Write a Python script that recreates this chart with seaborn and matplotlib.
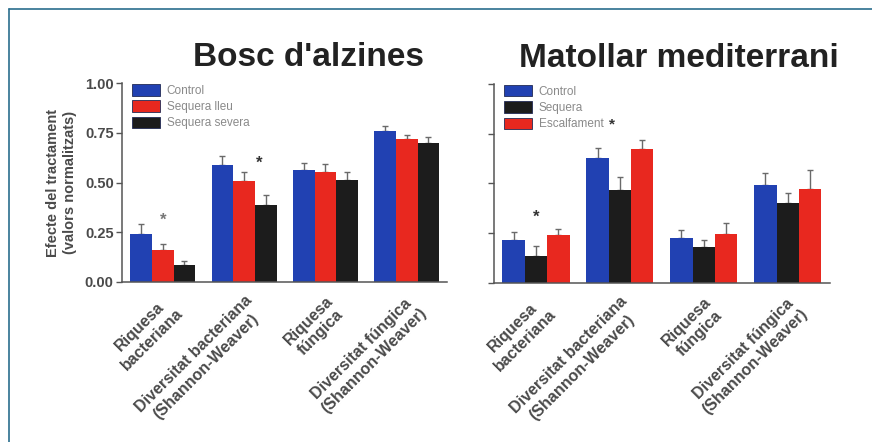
import matplotlib
matplotlib.use("Agg")
import matplotlib.pyplot as plt
import matplotlib.transforms as mtransforms
import seaborn as sns
import pandas as pd
import numpy as np
from matplotlib.lines import Line2D
from matplotlib.patches import Patch

sns.set_style("white")
plt.rcParams['font.family'] = ['Liberation Sans', 'DejaVu Sans']

categories = ["Riquesa\nbacteriana", "Diversitat bacteriana\n(Shannon-Weaver)",
              "Riquesa\nfúngica", "Diversitat fúngica\n(Shannon-Weaver)"]

# Bosc d'alzines
left_series = ["Control", "Sequera lleu", "Sequera severa"]
left_control = [0.24, 0.59, 0.565, 0.76]
left_lleu = [0.16, 0.51, 0.555, 0.72]
left_severa = [0.085, 0.385, 0.515, 0.70]
left_control_err = [0.05, 0.045, 0.035, 0.025]
left_lleu_err = [0.03, 0.045, 0.04, 0.02]
left_severa_err = [0.02, 0.05, 0.04, 0.03]

# Matollar mediterrani
right_series = ["Control", "Sequera", "Escalfament"]
right_control = [0.215, 0.63, 0.225, 0.49]
right_sequera = [0.135, 0.465, 0.18, 0.40]
right_escalf = [0.24, 0.675, 0.245, 0.47]
right_control_err = [0.04, 0.05, 0.04, 0.06]
right_sequera_err = [0.05, 0.065, 0.035, 0.05]
right_escalf_err = [0.03, 0.045, 0.055, 0.10]

yticks = [0.0, 0.25, 0.5, 0.75, 1.0]
ytick_labels = ["0.00", "0.25", "0.50", "0.75", "1.00"]

BLUE = "#2141b2"
RED = "#e8281f"
BLACK = "#1c1c1c"
TXT = "#4a4a4a"

fig = plt.figure(figsize=(8.72, 4.42), dpi=100)
axL = fig.add_axes([0.140, 0.362, 0.373, 0.450])
axR = fig.add_axes([0.5665, 0.360, 0.385, 0.450])


def panel(ax, series, vals, errs, colors, title, title_x, ylabels):
    rows = []
    for s, v in zip(series, vals):
        for c, y in zip(categories, v):
            rows.append({"cat": c, "serie": s, "val": y})
    df = pd.DataFrame(rows)
    sns.barplot(data=df, x="cat", y="val", hue="serie", order=categories,
                hue_order=series, palette=colors, errorbar=None, ax=ax,
                width=0.8, saturation=1, legend=False, edgecolor="none")
    patches = [p for p in ax.patches]
    n = len(categories)
    for si, (v, e) in enumerate(zip(vals, errs)):
        ps = patches[si * n:(si + 1) * n]
        xs = [p.get_x() + p.get_width() / 2 for p in ps]
        ax.errorbar(xs, v, yerr=[np.zeros(n), e], fmt="none",
                    ecolor="#6a6a6a", elinewidth=1.0, capsize=2.0, capthick=1.0, zorder=1)
        for p in ps:
            p.set_zorder(2)
    ax.set_ylim(0, 1.0)
    ax.set_xlim(-0.5, 3.5)
    ax.set_yticks(yticks)
    if ylabels:
        ax.set_yticklabels(ytick_labels, fontsize=10.5, fontweight="bold", color=TXT)
    else:
        ax.set_yticklabels([])
    ax.set_xticks(range(n))
    ax.set_xticklabels(categories, rotation=45, ha="right", va="top",
                       rotation_mode="anchor", fontsize=11.5, fontweight="bold",
                       color=TXT, multialignment="center")
    off = mtransforms.ScaledTranslation(-6 / 100, 0, fig.dpi_scale_trans)
    for lab in ax.get_xticklabels():
        lab.set_transform(lab.get_transform() + off)
    ax.tick_params(axis="x", length=0, pad=8)
    ax.tick_params(axis="y", length=4, width=1.0, color="#555555", left=True, pad=2)
    ax.set_xlabel("")
    ax.set_ylabel("")
    for sp in ["top", "right"]:
        ax.spines[sp].set_visible(False)
    for sp in ["left", "bottom"]:
        ax.spines[sp].set_color("#555555")
        ax.spines[sp].set_linewidth(1.1)
    ax.set_title(title, fontsize=24, fontweight="bold", color="#222222", pad=12, x=title_x)
    handles = [Patch(facecolor=c, edgecolor="#222a55", linewidth=0.6) for c in colors]
    leg = ax.legend(handles, series, loc="upper left", bbox_to_anchor=(0.01, 1.03),
                    frameon=False, fontsize=8.5, handlelength=2.3, handleheight=1.1,
                    labelspacing=0.3, handletextpad=0.6, borderaxespad=0.2)
    for t in leg.get_texts():
        t.set_color("#8a8a8a")
    return leg


panel(axL, left_series, [left_control, left_lleu, left_severa],
      [left_control_err, left_lleu_err, left_severa_err],
      [BLUE, RED, BLACK], "Bosc d'alzines", 0.574, True)
legR = panel(axR, right_series, [right_control, right_sequera, right_escalf],
             [right_control_err, right_sequera_err, right_escalf_err],
             [BLUE, BLACK, RED], "Matollar mediterrani", 0.55, False)

axL.set_ylabel("Efecte del tractament\n(valors normalitzats)", fontsize=10.5,
               fontweight="bold", color=TXT, labelpad=6)

# significance stars
axL.text(0.0, 0.31, "*", ha="center", va="center", fontsize=12, color="#777777", fontweight="bold")
axL.text(1.18, 0.595, "*", ha="center", va="center", fontsize=12, color="#333333", fontweight="bold")
axR.text(0.0, 0.33, "*", ha="center", va="center", fontsize=12, color="#333333", fontweight="bold")
# star after "Escalfament" in legend
lt = legR.get_texts()[2]
fig.canvas.draw()
bb = lt.get_window_extent()
fig.text((bb.x1 + 6) / fig.bbox.width, (bb.y0 + bb.y1) / 2 / fig.bbox.height, "*",
         ha="left", va="center", fontsize=11, color="#333333", fontweight="bold")

# frame lines (top and left)
fig.add_artist(Line2D([0.0105, 0.0105], [0.0, 0.98], transform=fig.transFigure,
                      color="#2a6e8e", lw=1.2))
fig.add_artist(Line2D([0.0105, 1.0], [0.98, 0.98], transform=fig.transFigure,
                      color="#2a6e8e", lw=1.2))

fig.savefig("out.png", dpi=100)
